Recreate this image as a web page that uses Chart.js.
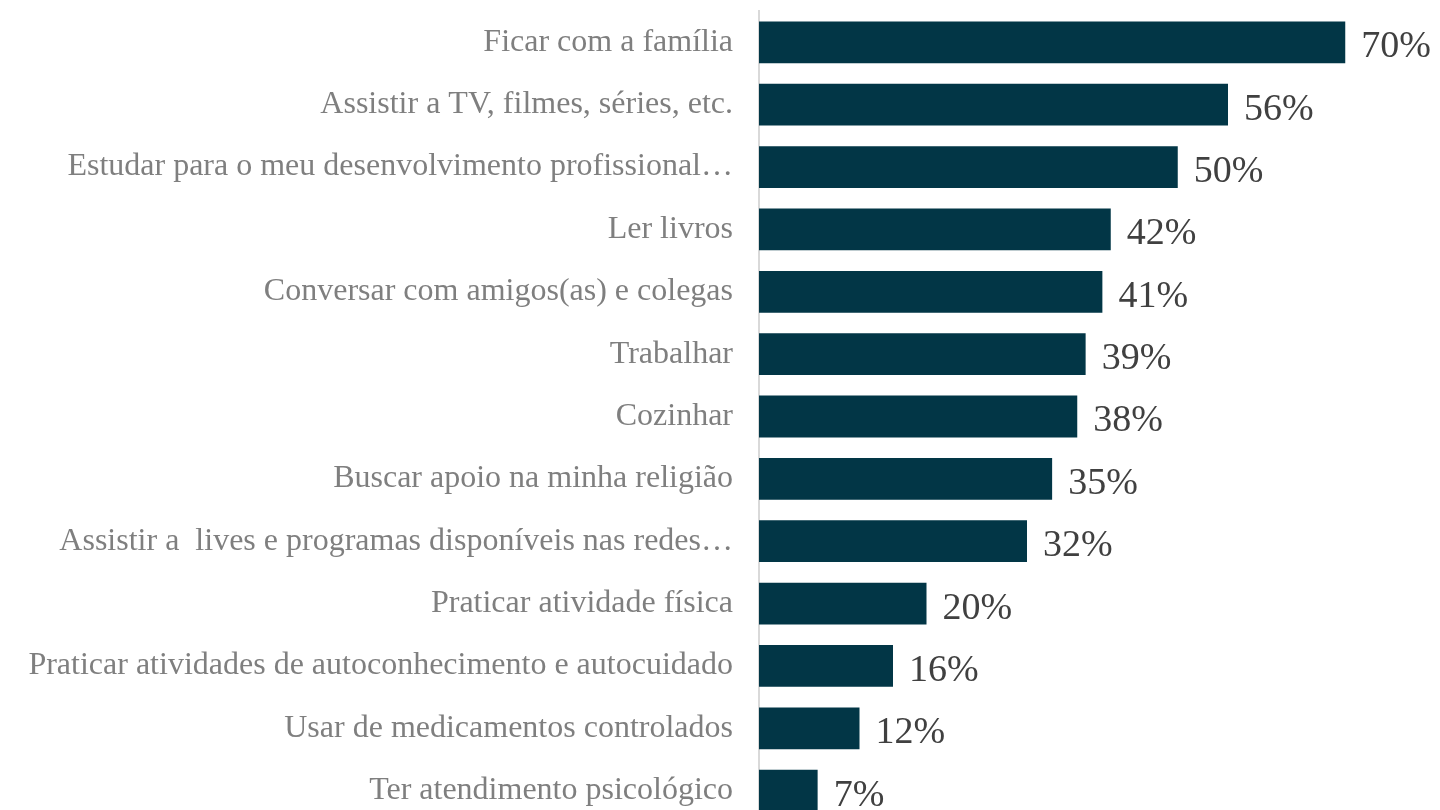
<!DOCTYPE html>
<html>
<head>
<meta charset="utf-8">
<script src="https://cdn.jsdelivr.net/npm/chart.js@4"></script>
<style>
  html, body { margin: 0; padding: 0; background: #fff; overflow: hidden; }
  #wrap { position: relative; width: 1440px; height: 901px; margin-top: -34px; }
</style>
</head>
<body>
<div id="wrap"><canvas id="barChart"></canvas></div>
<script>
const categories = [
  "Ficar com a família",
  "Assistir a TV, filmes, séries, etc.",
  "Estudar para o meu desenvolvimento profissional…",
  "Ler livros",
  "Conversar com amigos(as) e colegas",
  "Trabalhar",
  "Cozinhar",
  "Buscar apoio na minha religião",
  "Assistir a  lives e programas disponíveis nas redes…",
  "Praticar atividade física",
  "Praticar atividades de autoconhecimento e autocuidado",
  "Usar de medicamentos controlados",
  "Ter atendimento psicológico"
];
const values = [70, 56, 50, 42, 41, 39, 38, 35, 32, 20, 16, 12, 7];

const serif = "'Liberation Serif', 'DejaVu Serif', serif";

// draws the "70%" style labels next to each bar
const valueLabels = {
  id: "valueLabels",
  afterDatasetsDraw(chart) {
    const ctx = chart.ctx;
    const meta = chart.getDatasetMeta(0);
    ctx.save();
    ctx.font = "38px " + serif;
    ctx.fillStyle = "#404040";
    ctx.textAlign = "left";
    ctx.textBaseline = "middle";
    meta.data.forEach((bar, i) => {
      ctx.fillText(values[i] + "%", bar.x + 16, bar.y + 5);
    });
    ctx.restore();
  }
};

const ctx = document.getElementById("barChart").getContext("2d");
new Chart(ctx, {
  type: "bar",
  data: {
    labels: categories,
    datasets: [{
      data: values,
      backgroundColor: "#023646",
      borderWidth: 0,
      categoryPercentage: 1,
      barPercentage: 0.67
    }]
  },
  options: {
    indexAxis: "y",
    responsive: true,
    maintainAspectRatio: false,
    animation: false,
    layout: { padding: { top: 10, bottom: 2, left: 0, right: 11 } },
    plugins: {
      legend: { display: false },
      tooltip: { enabled: false }
    },
    scales: {
      x: {
        display: false,
        min: 0,
        max: 80
      },
      y: {
        afterFit(scale) { scale.width = 759; },
        grid: { display: false, drawTicks: false },
        border: { display: true, color: "#d9d9d9", width: 2 },
        ticks: {
          padding: 26,
          color: "#7f7f7f",
          font: { family: serif, size: 32 }
        }
      }
    }
  },
  plugins: [valueLabels]
});
</script>
</body>
</html>
